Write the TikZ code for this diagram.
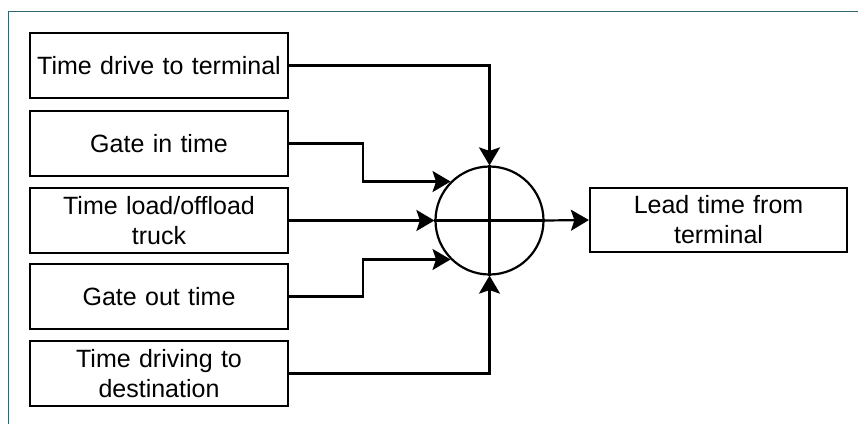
\documentclass[tikz,border=0pt]{standalone}
\usepackage{fontspec}
\setmainfont{Liberation Sans}
\usetikzlibrary{arrows.meta}
\definecolor{frameteal}{RGB}{47,104,112}
\tikzset{
  stagebox/.style={draw, line width=2.2pt, minimum width=258pt, minimum height=65pt,
    inner sep=0pt, align=center, text width=254pt,
    font=\fontsize{25}{30}\selectfont},
  sumnode/.style={draw, circle, line width=2.2pt, minimum size=108pt, inner sep=0pt},
  feed/.style={line width=2.2pt, -{Stealth[length=18pt,width=21pt,inset=3.5pt]}},
  frameline/.style={draw=frameteal, line width=1.3pt}
}
\begin{document}
\begin{tikzpicture}[x=1pt,y=-1pt]
\useasboundingbox (0,0) rectangle (858,424);
% thin frame along top and left
\coordinate (fa) at (858,11.5);
\coordinate (fb) at (8.5,11.5);
\coordinate (fc) at (8.5,424);
\draw[frameline] (fa) -- (fb) -- (fc);

% input stages
\node[stagebox] (b1) at (159,65.5) {Time drive to terminal};
\node[stagebox] (b2) at (159,143.5) {Gate in time};
\node[stagebox] (b3) at (159,220.5) {Time load/offload\\truck};
\node[stagebox] (b4) at (159,296.5) {Gate out time};
\node[stagebox] (b5) at (159,373.5) {Time driving to\\destination};

% summing junction
\node[sumnode] (c) at (489.5,220.5) {};
\draw[line width=2.2pt] (c.north) -- (c.south);
\draw[line width=2.2pt] (c.west) -- (c.east);

% result
\node[stagebox, minimum width=257pt, minimum height=64pt] (out) at (718.5,220) {Lead time from\\terminal};

% connectors
\draw[feed] (b1.east) -| (c.north);
\draw[feed] (b2.east) -- ++(74,0) |- (c.135);
\draw[feed] (b3.east) -- (c.west);
\draw[feed] (b4.east) -- ++(74,0) |- (c.225);
\draw[feed] (b5.east) -| (c.south);
\draw[feed] (c.east) -- (out.west);
\end{tikzpicture}
\end{document}
